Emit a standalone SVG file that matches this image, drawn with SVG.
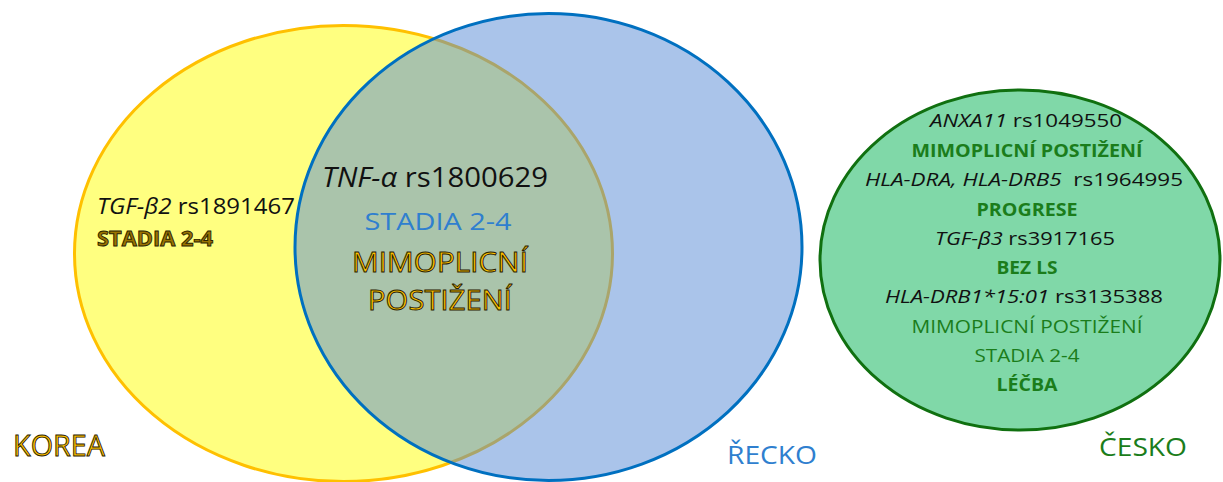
<svg xmlns="http://www.w3.org/2000/svg" width="1223" height="482" viewBox="0 0 1223 482">
  <style>
    text { font-family: "Open Sans", "Liberation Sans", sans-serif; }
    .it { font-style: italic; }
    .blk { fill: #111111; }
    .gold { fill: #ffc000; stroke: #2a2200; stroke-width: 0.9; }
    .golds { fill: #9a7400; stroke: #2a2200; stroke-width: 0.9; font-weight: bold; }
    .grn { fill: #1b7d1b; }
    .grnb { fill: #1b7d1b; font-weight: bold; }
    .blu { fill: #2f7fcf; }
  </style>

  <!-- Korea set -->
  <g id="korea">
    <ellipse cx="343.5" cy="253.5" rx="269" ry="228" fill="#ffff80" stroke="#ffc000" stroke-width="3"/>
  </g>

  <!-- Greece set, half-transparent over Korea -->
  <g id="recko">
    <ellipse cx="548.5" cy="247" rx="253.5" ry="233.5" fill="#5589d5" fill-opacity="0.5" stroke="#0070c0" stroke-width="3"/>
  </g>

  <!-- Czech set -->
  <g id="cesko">
    <ellipse cx="1020" cy="260" rx="200" ry="170" fill="#80d8a8" stroke="#107010" stroke-width="3"/>
  </g>

  <g id="connectors"></g>

  <!-- Korea only -->
  <g id="korea-text">
    <text x="97" y="214" font-size="21" textLength="198" lengthAdjust="spacingAndGlyphs" class="blk"><tspan class="it">TGF-β2</tspan> rs1891467</text>
    <text x="97" y="246" font-size="21" textLength="116" lengthAdjust="spacingAndGlyphs" class="golds">STADIA 2-4</text>
    <text x="13" y="456" font-size="30" textLength="92" lengthAdjust="spacingAndGlyphs" class="gold">KOREA</text>
  </g>

  <!-- Korea and Greece overlap -->
  <g id="overlap-text">
    <text x="435" y="187" font-size="27" text-anchor="middle" textLength="226" lengthAdjust="spacingAndGlyphs" class="blk"><tspan class="it">TNF-α</tspan> rs1800629</text>
    <text x="438" y="230" font-size="24" text-anchor="middle" textLength="147" lengthAdjust="spacingAndGlyphs" class="blu">STADIA 2-4</text>
    <text x="440" y="272" font-size="28" text-anchor="middle" textLength="176" lengthAdjust="spacingAndGlyphs" class="gold">MIMOPLICNÍ</text>
    <text x="440" y="310" font-size="28" text-anchor="middle" textLength="144" lengthAdjust="spacingAndGlyphs" class="gold">POSTIŽENÍ</text>
  </g>

  <g id="recko-label">
    <text x="727" y="464" font-size="25" textLength="90" lengthAdjust="spacingAndGlyphs" class="blu">ŘECKO</text>
  </g>

  <!-- Czech findings -->
  <g id="cesko-text" text-anchor="middle">
    <text x="1026" y="127" font-size="18" textLength="192" lengthAdjust="spacingAndGlyphs" class="blk"><tspan class="it">ANXA11</tspan> rs1049550</text>
    <text x="1027" y="157" font-size="18" textLength="231" lengthAdjust="spacingAndGlyphs" class="grnb">MIMOPLICNÍ POSTIŽENÍ</text>
    <text x="1024" y="186" font-size="18" textLength="318" lengthAdjust="spacingAndGlyphs" class="blk" xml:space="preserve"><tspan class="it">HLA-DRA, HLA-DRB5</tspan>  rs1964995</text>
    <text x="1027" y="216" font-size="18" textLength="101" lengthAdjust="spacingAndGlyphs" class="grnb">PROGRESE</text>
    <text x="1025" y="245" font-size="18" textLength="180" lengthAdjust="spacingAndGlyphs" class="blk"><tspan class="it">TGF-β3</tspan> rs3917165</text>
    <text x="1027" y="274" font-size="18" textLength="61" lengthAdjust="spacingAndGlyphs" class="grnb">BEZ LS</text>
    <text x="1024" y="303" font-size="18" textLength="278" lengthAdjust="spacingAndGlyphs" class="blk"><tspan class="it">HLA-DRB1*15:01</tspan> rs3135388</text>
    <text x="1027" y="333" font-size="18" textLength="231" lengthAdjust="spacingAndGlyphs" class="grn">MIMOPLICNÍ POSTIŽENÍ</text>
    <text x="1027" y="362" font-size="18" textLength="105" lengthAdjust="spacingAndGlyphs" class="grn">STADIA 2-4</text>
    <text x="1027" y="391" font-size="18" textLength="61" lengthAdjust="spacingAndGlyphs" class="grnb">LÉČBA</text>
  </g>

  <g id="cesko-label">
    <text x="1099" y="456" font-size="26" textLength="88" lengthAdjust="spacingAndGlyphs" class="grn">ČESKO</text>
  </g>
</svg>
